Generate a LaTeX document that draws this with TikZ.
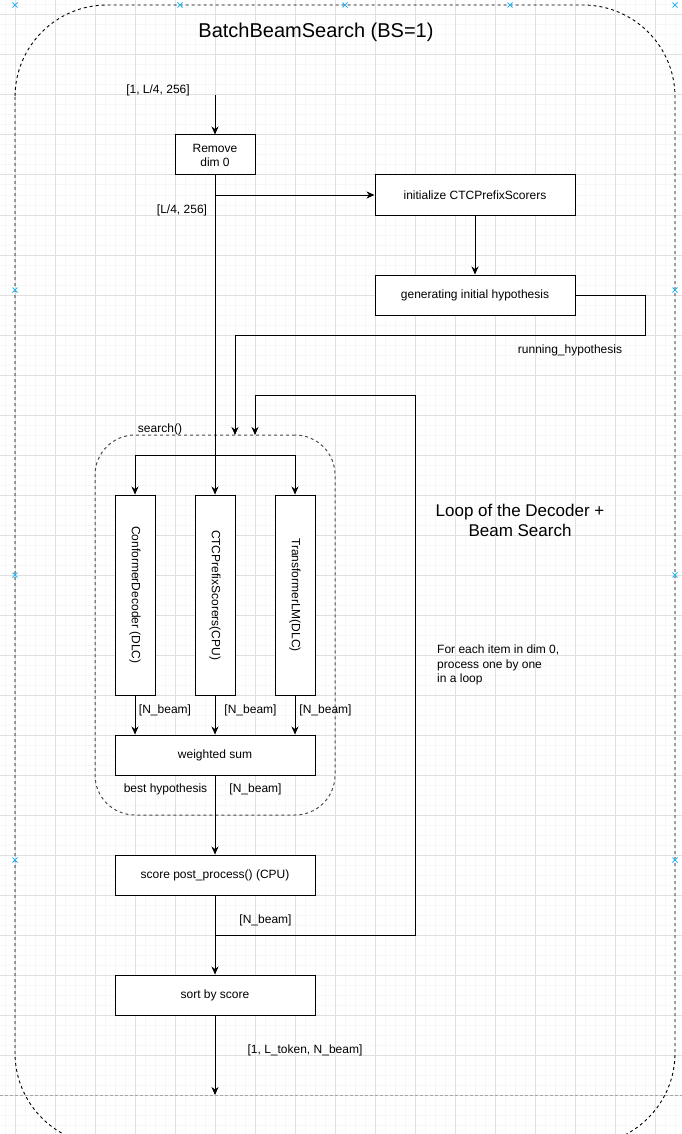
\documentclass[tikz,border=0pt]{standalone}
\usepackage{fontspec}
\setmainfont{Liberation Sans}
\usetikzlibrary{arrows.meta}
\definecolor{gridmajor}{HTML}{E0E0E0}
\definecolor{gridminor}{HTML}{F7F7F7}
\definecolor{handle}{HTML}{29B6F2}
\tikzset{
  box/.style = {draw = black, line width = 1pt, fill = white, minimum width = 200, minimum height = 40, inner sep = 0pt, align = center, font = \fontsize{12}{14}\selectfont},
  vbox/.style = {box, minimum width = 40, minimum height = 200},
  lbl/.style = {inner sep = 0pt, font = \fontsize{12}{14}\selectfont},
  arr/.style = {draw = black, line width = 1pt, -{Stealth[length = 8pt, width = 7pt, inset = 2.5pt]}},
  region/.style = {draw = black!70, line width = 1pt, dash pattern = on 3pt off 3pt, rounded corners = 40, minimum width = 240, minimum height = 380, inner sep = 0pt}
}
\begin{document}
\begin{tikzpicture}[x = 1pt, y = -1pt]
\useasboundingbox (0,0) rectangle (682,1134);
\fill[white] (0,0) rectangle (682,1134);
\foreach \g in {5,15,...,675} \draw[gridminor, line width = 1pt] (\g,0) -- (\g,1134);
\foreach \g in {5,15,...,1125} \draw[gridminor, line width = 1pt] (0,\g) -- (682,\g);
\foreach \g in {15,55,...,655} \draw[gridmajor, line width = 1pt] (\g,0) -- (\g,1134);
\foreach \g in {15,55,...,1135} \draw[gridmajor, line width = 1pt] (0,\g) -- (682,\g);
\draw[black!35, line width = 0.7pt, dash pattern = on 3pt off 2pt] (0,1095) -- (682,1095);
\draw[black, line width = 0.9pt, dash pattern = on 3pt off 3pt, rounded corners = 92] (15,5) rectangle (675,1145);
\foreach \x/\y in {15/5,180/5,345/5,510/5,675/5,15/290,15/575,15/860,675/290,675/575,675/860}
  \draw[handle, line width = 0.8pt] (\x-2.5,\y-2.5) -- (\x+2.5,\y+2.5) (\x-2.5,\y+2.5) -- (\x+2.5,\y-2.5);

\node[font = \fontsize{20}{24}\selectfont] (title) at (316,32) {BatchBeamSearch (BS=1)};
\node[lbl] (inlbl) at (158,90) {[1, L/4, 256]};
\coordinate (in) at (215,95);
\node[box, minimum width = 80] (remove) at (215,155) {Remove\\dim 0};
\node[lbl] (dimlbl) at (182,210) {[L/4, 256]};
\node[box] (init) at (475,195) {initialize CTCPrefixScorers};
\node[box] (gen) at (475,295) {generating initial hypothesis};
\node[lbl] (runlbl) at (570,350) {running\_hypothesis};

\node[region] (search) at (215,625) {};
\node[lbl] (searchlbl) at (160,429) {search()};
\node[vbox] (dec) at (135,595) {\rotatebox{-90}{ConformerDecoder (DLC)}};
\node[vbox] (ctc) at (215,595) {\rotatebox{-90}{CTCPrefixScorers(CPU)}};
\node[vbox] (lm) at (295,595) {\rotatebox{-90}{TransformerLM(DLC)}};
\node[lbl] (declbl) at (165,710) {[N\_beam]};
\node[lbl] (ctclbl) at (250.5,710) {[N\_beam]};
\node[lbl] (lmlbl) at (325.5,710) {[N\_beam]};
\node[box] (wsum) at (215,755) {weighted sum};
\node[lbl] (bestlbl) at (165.5,789) {best hypothesis};
\node[lbl] (wsumlbl) at (255.5,789) {[N\_beam]};

\node[box] (post) at (215,875) {score post\_process() (CPU)};
\node[lbl] (postlbl) at (265.5,920) {[N\_beam]};
\node[box] (sort) at (215,995) {sort by score};
\node[lbl] (outlbl) at (305,1050) {[1, L\_token, N\_beam]};
\coordinate (out) at (215,1095);

\node[align = center, font = \fontsize{17}{20}\selectfont] (looplbl) at (520,520) {Loop of the Decoder +\\Beam Search};
\node[lbl, align = left, anchor = west, font = \fontsize{12}{14.5}\selectfont] (eachlbl) at (437,665) {For each item in dim 0,\\process one by one\\in a loop};

\coordinate (split1) at (215,195);
\coordinate (split2) at (215,455);
\coordinate (split3) at (215,935);
\coordinate (run) at (235,435);
\coordinate (back) at (255,435);
\draw[arr] (in) -- (remove);
\draw[arr] (remove) -- (ctc);
\draw[arr] (split1) -- (init);
\draw[arr] (init) -- (gen);
\draw[arr] (gen.east) -| (645,335) -| (run);
\draw[arr] (split2) -| (dec);
\draw[arr] (split2) -| (lm);
\draw[arr] (dec) -- (dec |- wsum.north);
\draw[arr] (ctc) -- (wsum);
\draw[arr] (lm) -- (lm |- wsum.north);
\draw[arr] (wsum) -- (post);
\draw[arr] (post) -- (sort);
\draw[arr] (split3) -| (415,395) -| (back);
\draw[arr] (sort) -- (out);
\end{tikzpicture}
\end{document}
